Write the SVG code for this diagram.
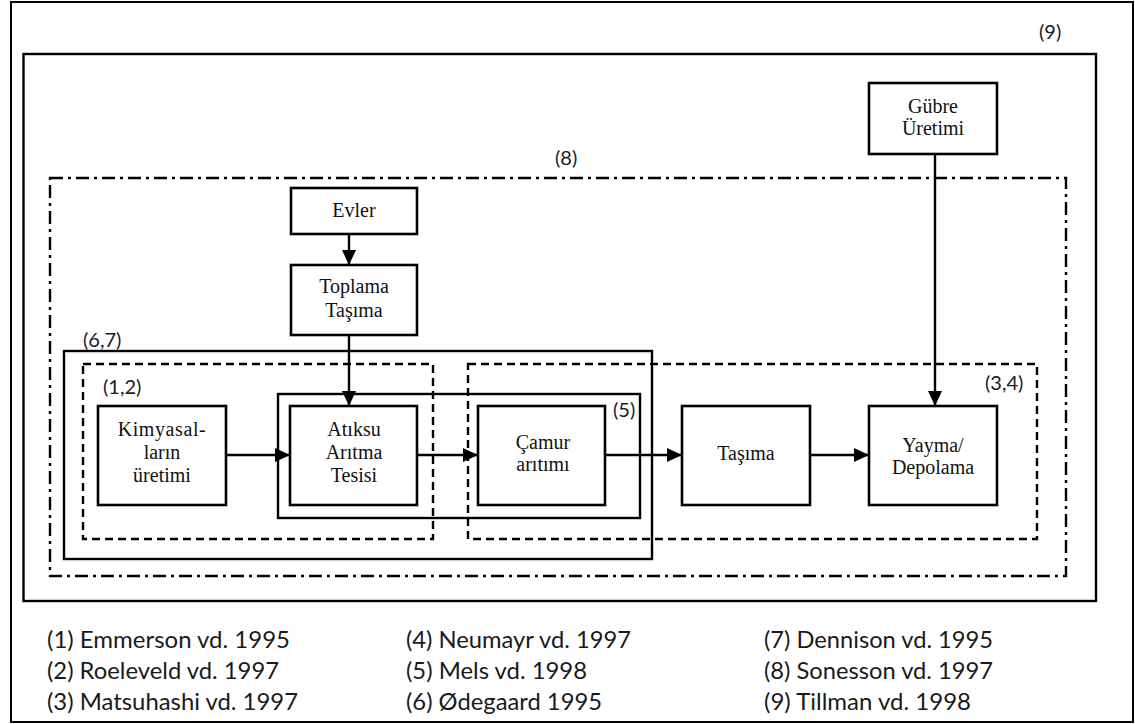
<svg xmlns="http://www.w3.org/2000/svg" width="1135" height="724" viewBox="0 0 1135 724">
  <defs>
    <marker id="arrow" markerUnits="userSpaceOnUse" markerWidth="16" markerHeight="15" refX="15" refY="7" orient="auto">
      <path d="M0,0 L15,7 L0,14 Z" fill="#000"/>
    </marker>
  </defs>
  <style>
    .box { fill: #fff; stroke: #000; stroke-width: 2.6; }
    .frame { fill: none; stroke: #000; stroke-width: 2.4; }
    .dash { fill: none; stroke: #000; stroke-width: 2.4; stroke-dasharray: 8 5; }
    .dashdot { fill: none; stroke: #000; stroke-width: 2.4; stroke-dasharray: 13 5 3 5; }
    .link { fill: none; stroke: #000; stroke-width: 2.4; marker-end: url(#arrow); }
    .serif { font-family: "Liberation Serif", "Times New Roman", serif; font-size: 20px; fill: #111; text-anchor: middle; }
    .tag { font-family: Lato, "Liberation Sans", sans-serif; font-size: 20px; fill: #1a1a2a; }
    .ref { font-family: Lato, "Liberation Sans", sans-serif; font-size: 24px; fill: #1a1a1a; }
  </style>

  <rect width="1135" height="724" fill="#fff"/>

  <!-- page border -->
  <rect x="11" y="2" width="1122" height="720" fill="none" stroke="#000" stroke-width="2"/>

  <!-- system boundaries -->
  <g id="boundary-9">
    <rect class="frame" x="23.5" y="54" width="1072.5" height="547"/>
    <text class="tag" x="1039" y="39">(9)</text>
  </g>
  <g id="boundary-8">
    <rect class="dashdot" x="50" y="178" width="1016" height="398"/>
    <text class="tag" x="555" y="165">(8)</text>
  </g>
  <g id="boundary-6-7">
    <rect class="frame" x="64" y="351" width="588" height="208"/>
    <text class="tag" x="83" y="347">(6,7)</text>
  </g>
  <g id="boundary-1-2">
    <rect class="dash" x="83" y="364" width="350" height="175"/>
    <text class="tag" x="103" y="394">(1,2)</text>
  </g>
  <g id="boundary-3-4">
    <rect class="dash" x="468" y="364" width="569" height="175"/>
    <text class="tag" x="985" y="390">(3,4)</text>
  </g>
  <g id="boundary-5">
    <rect class="frame" x="278" y="394" width="362" height="124"/>
    <text class="tag" x="613" y="417">(5)</text>
  </g>

  <!-- process nodes -->
  <g id="gubre">
    <rect class="box" x="869" y="83" width="128" height="71"/>
    <text class="serif" x="933" y="113">Gübre</text>
    <text class="serif" x="933" y="135">Üretimi</text>
  </g>
  <g id="evler">
    <rect class="box" x="291" y="188" width="126" height="46"/>
    <text class="serif" x="354" y="217">Evler</text>
  </g>
  <g id="toplama">
    <rect class="box" x="291" y="265" width="126" height="70"/>
    <text class="serif" x="354" y="293">Toplama</text>
    <text class="serif" x="354" y="317">Taşıma</text>
  </g>
  <g id="kimyasal">
    <rect class="box" x="98" y="406" width="128" height="99"/>
    <text class="serif" x="162" y="436" letter-spacing="0.6">Kimyasal-</text>
    <text class="serif" x="162" y="459">ların</text>
    <text class="serif" x="162" y="482">üretimi</text>
  </g>
  <g id="atiksu">
    <rect class="box" x="290" y="406" width="127" height="99"/>
    <text class="serif" x="354" y="436">Atıksu</text>
    <text class="serif" x="354" y="459">Arıtma</text>
    <text class="serif" x="354" y="482">Tesisi</text>
  </g>
  <g id="camur">
    <rect class="box" x="478" y="406" width="127" height="99"/>
    <text class="serif" x="543" y="449">Çamur</text>
    <text class="serif" x="543" y="471">arıtımı</text>
  </g>
  <g id="tasima">
    <rect class="box" x="682" y="406" width="128" height="99"/>
    <text class="serif" x="746" y="460">Taşıma</text>
  </g>
  <g id="yayma">
    <rect class="box" x="869" y="406" width="128" height="99"/>
    <text class="serif" x="933" y="452">Yayma/</text>
    <text class="serif" x="933" y="474">Depolama</text>
  </g>

  <!-- flows -->
  <g id="connectors">
    <line class="link" x1="349" y1="234" x2="349" y2="265"/>
    <line class="link" x1="349" y1="335" x2="349" y2="406"/>
    <line class="link" x1="935" y1="154" x2="935" y2="406" stroke-width="2"/>
    <line class="link" x1="226" y1="455" x2="290" y2="455"/>
    <line class="link" x1="417" y1="455" x2="478" y2="455"/>
    <line class="link" x1="605" y1="455" x2="682" y2="455"/>
    <line class="link" x1="810" y1="455" x2="869" y2="455"/>
  </g>

  <!-- reference list -->
  <g id="references">
    <text class="ref" x="47" y="648" textLength="243" lengthAdjust="spacingAndGlyphs">(1) Emmerson vd. 1995</text>
    <text class="ref" x="47" y="679" textLength="232" lengthAdjust="spacingAndGlyphs">(2) Roeleveld vd. 1997</text>
    <text class="ref" x="47" y="710" textLength="251" lengthAdjust="spacingAndGlyphs">(3) Matsuhashi vd. 1997</text>
    <text class="ref" x="406" y="648" textLength="225" lengthAdjust="spacingAndGlyphs">(4) Neumayr vd. 1997</text>
    <text class="ref" x="406" y="679" textLength="181" lengthAdjust="spacingAndGlyphs">(5) Mels vd. 1998</text>
    <text class="ref" x="406" y="710" textLength="196" lengthAdjust="spacingAndGlyphs">(6) Ødegaard 1995</text>
    <text class="ref" x="764" y="648" textLength="229" lengthAdjust="spacingAndGlyphs">(7) Dennison vd. 1995</text>
    <text class="ref" x="764" y="679" textLength="229" lengthAdjust="spacingAndGlyphs">(8) Sonesson vd. 1997</text>
    <text class="ref" x="764" y="710" textLength="207" lengthAdjust="spacingAndGlyphs">(9) Tillman vd. 1998</text>
  </g>
</svg>
